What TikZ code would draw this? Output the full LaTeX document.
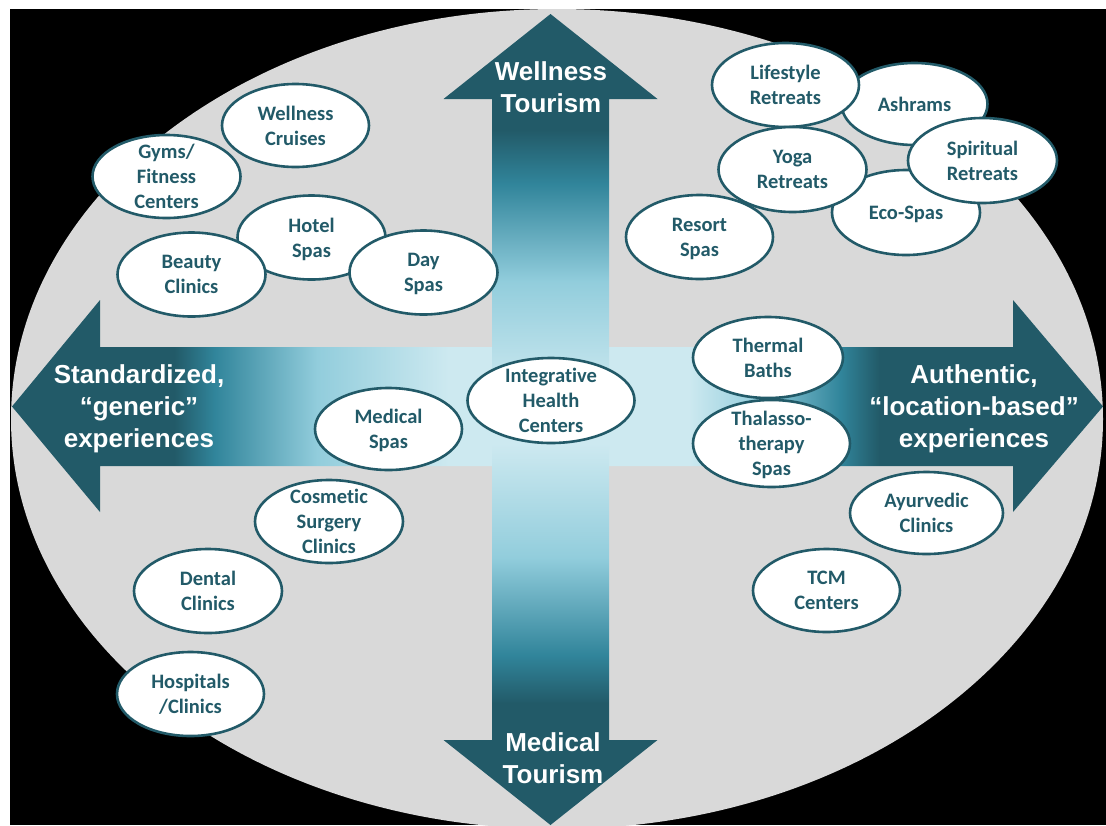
\documentclass[tikz,border=0pt]{standalone}
\usepackage{fontspec}
\newfontfamily\calfont{Carlito}[Ligatures=NoCommon]
\newfontfamily\arialfont{Liberation Sans}
\usetikzlibrary{shapes.geometric}
\definecolor{dk}{RGB}{34,90,104}
\definecolor{tl}{RGB}{49,133,155}
\definecolor{lt}{RGB}{146,205,220}
\definecolor{vl}{RGB}{205,233,240}
\definecolor{bg}{RGB}{217,217,217}
\pgfdeclarehorizontalshading{hshade}{100bp}{color(0bp)=(dk); color(32.45bp)=(dk); color(34.3bp)=(tl); color(39bp)=(lt); color(45bp)=(vl); color(56bp)=(vl); color(59.3bp)=(lt); color(62.95bp)=(tl); color(64.75bp)=(dk); color(100bp)=(dk)}
\pgfdeclareverticalshading{vshade}{100bp}{color(0bp)=(dk); color(32.5bp)=(dk); color(35.5bp)=(tl); color(41.5bp)=(lt); color(48.5bp)=(vl); color(51.5bp)=(vl); color(58.5bp)=(lt); color(64.5bp)=(tl); color(67.85bp)=(dk); color(100bp)=(dk)}
\tikzset{
  bub/.style={ellipse, draw=dk, line width=2.6pt, fill=white, inner sep=0pt},
  bubtext/.style={font=\calfont\bfseries\fontsize{20.5}{25}\selectfont, text=dk, align=center, inner sep=0pt, text depth=0pt},
  arrtext/.style={font=\arialfont\bfseries\fontsize{26}{32}\selectfont, text=white, align=center, inner sep=0pt},
}
\newcommand\bubble[6]{%
  \node[bub, minimum width=#4, minimum height=#5] (#1) at (#2,#3) {};
  \node[bubtext] (#1t) at (#1.center) {#6};}
\begin{document}
\begin{tikzpicture}[x=1pt,y=-1pt]
\useasboundingbox (0,0) rectangle (1106,825);
\fill[white] (0,0) rectangle (1106,825);
\fill[black] (10,9) rectangle (1106,825);
\fill[bg] (557,419) ellipse [x radius=546, y radius=410];
% horizontal arrow
\shade[shading=hshade] (12,406.5) -- (100,300) -- (100,347) -- (1013,347) -- (1013,300) -- (1103,406.5) -- (1013,512) -- (1013,466) -- (100,466) -- (100,512) -- cycle;
% vertical arrow
\shade[shading=vshade] (550.5,14) -- (657.5,99) -- (609,99) -- (609,740) -- (657.5,740) -- (550.5,825) -- (443.5,740) -- (492,740) -- (492,99) -- (443.5,99) -- cycle;
% arrow labels
\node[arrtext] (wt) at (551,87) {Wellness\\Tourism};
\node[arrtext] (mt) at (553,758) {Medical\\Tourism};
\node[arrtext] (sg) at (139,409) {Standardized,\\“generic”\\experiences};
\node[arrtext] (al) at (974,409) {Authentic,\\“location-based”\\experiences};
% left bubbles
\bubble{cruise}{295.5}{125.5}{147}{83}{Wellness\\Cruises}
\bubble{gyms}{166.5}{176.5}{148}{83}{Gyms/\\Fitness\\Centers}
\bubble{hotel}{311.5}{237.5}{148}{84}{Hotel\\Spas}
\bubble{beauty}{191.5}{274.5}{148}{84}{Beauty\\Clinics}
\bubble{day}{423.5}{272.5}{148}{84}{Day\\Spas}
\bubble{medspa}{388.5}{429}{147}{82}{Medical\\Spas}
\bubble{integ}{551}{400.5}{167}{85}{Integrative\\Health\\Centers}
\bubble{cosm}{329}{521.5}{148}{83}{Cosmetic\\Surgery\\Clinics}
\bubble{dental}{208}{591}{148}{84}{Dental\\Clinics}
\bubble{hosp}{190.5}{694}{147}{84}{Hospitals\\/Clinics}
% right bubbles
\bubble{ashram}{914.5}{104}{146}{82}{Ashrams}
\bubble{life}{785.5}{85}{147}{84}{Lifestyle\\Retreats}
\bubble{eco}{906}{212.5}{148}{85}{Eco-Spas}
\bubble{yoga}{792.5}{169.5}{148}{85}{Yoga\\Retreats}
\bubble{spirit}{982.5}{160.5}{149}{85}{Spiritual\\Retreats}
\bubble{resort}{699.5}{237}{147}{84}{Resort\\Spas}
\bubble{thermal}{768}{357.5}{150}{81}{Thermal\\Baths}
\bubble{thal}{771.5}{443.5}{157}{87}{Thalasso-\\therapy\\Spas}
\bubble{ayur}{926.5}{513}{153}{82}{Ayurvedic\\Clinics}
\bubble{tcm}{826.5}{590.5}{147}{83}{TCM\\Centers}
\end{tikzpicture}
\end{document}
